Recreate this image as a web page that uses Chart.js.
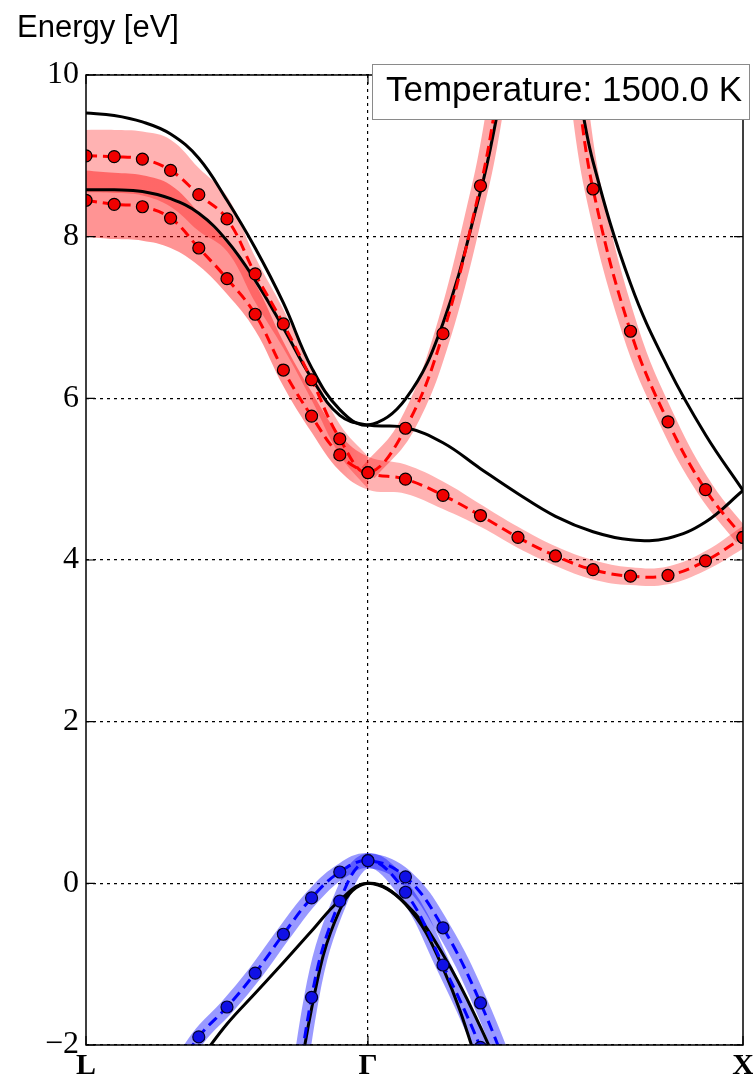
<!DOCTYPE html>
<html>
<head>
<meta charset="utf-8">
<title>Band structure at 1500 K</title>
<script src="https://cdn.jsdelivr.net/npm/chart.js@4.4.1/dist/chart.umd.min.js"></script>
<style>
  html, body { margin: 0; padding: 0; background: #fff; }
  canvas { display: block; }
</style>
</head>
<body>
<canvas id="bands" width="753" height="1081"></canvas>
<script>
// k-path L -> Gamma -> X, ten steps on each segment
const kGamma = 1.0;
const kX = 2.33;
const kPoints = [];
for (let i = 0; i <= 10; i++) kPoints.push(kGamma * i / 10);
for (let j = 1; j <= 10; j++) kPoints.push(kGamma + (kX - kGamma) * j / 10);

const pathLabels = ['L', 'Γ', 'X'];
const pathTicks = [0, kGamma, kX];
const energyTicks = [-2, 0, 2, 4, 6, 8, 10];
const temperatureLabel = 'Temperature: 1500.0 K';

// static-lattice bands (eV)
const bareC1 = [8.58, 8.58, 8.56, 8.47, 8.29, 7.95, 7.46, 6.87, 6.25, 5.79, 5.67,
                5.64, 5.45, 5.13, 4.82, 4.54, 4.35, 4.25, 4.27, 4.47, 4.86];
const bareC2 = [9.53, 9.50, 9.42, 9.27, 8.97, 8.45, 7.86, 7.18, 6.38, 5.86, 5.67,
                5.99, 6.93, 8.56, 10.4, 10.9, 8.93, 7.42, 6.38, 5.55, 4.86];
const bareV1 = [null, null, null, null, -2.2, -1.74, -1.36, -0.98, -0.59, -0.21, 0.0,
                -0.25, -0.88, -1.78, -2.85, null, null, null, null, null, null];
const bareV2 = [null, null, null, null, null, null, null, -3.8, -1.55, -0.33, 0.0,
                -0.26, -1.05, -2.35, -3.9, null, null, null, null, null, null];

// renormalised bands at 1500 K (eV)
const hotC1 = [8.45, 8.40, 8.37, 8.23, 7.86, 7.48, 7.04, 6.35, 5.78, 5.30, 5.08,
               5.00, 4.80, 4.55, 4.28, 4.05, 3.88, 3.80, 3.81, 3.99, 4.28];
const hotC2 = [9.00, 8.99, 8.96, 8.82, 8.52, 8.22, 7.54, 6.92, 6.23, 5.50, 5.08,
               5.63, 6.80, 8.63, 10.7, 11.1, 8.59, 6.83, 5.71, 4.87, 4.28];
const hotV1 = [null, null, null, -2.45, -1.90, -1.53, -1.11, -0.63, -0.18, 0.14, 0.28,
               0.08, -0.55, -1.48, -2.65, null, null, null, null, null, null];
const hotV2 = [null, null, null, null, null, null, null, -4.0, -1.41, -0.22, 0.28,
               -0.11, -1.01, -2.03, -3.3, null, null, null, null, null, null];

// broadening of the conduction bands
const hotC1Upper = [8.82, 8.79, 8.76, 8.64, 8.30, 7.92, 7.42, 6.70, 6.08, 5.55, 5.28,
                    5.18, 4.97, 4.69, 4.41, 4.17, 4.00, 3.91, 3.92, 4.11, 4.42];
const hotC1Lower = [8.00, 7.97, 7.95, 7.86, 7.64, 7.29, 6.84, 6.15, 5.58, 5.10, 4.87,
                    4.82, 4.63, 4.41, 4.15, 3.93, 3.76, 3.69, 3.70, 3.87, 4.14];
const hotC2Upper = [9.32, 9.32, 9.30, 9.20, 8.85, 8.50, 7.75, 7.10, 6.38, 5.68, 5.28];
const hotC2Lower = [8.55, 8.54, 8.51, 8.37, 8.07, 7.82, 7.19, 6.62, 5.98, 5.30, 4.88];

function pts(values, from = 0, to = values.length) {
  const out = [];
  for (let i = from; i < to; i++) out.push({ x: kPoints[i], y: values[i] });
  return out;
}

const common = { tension: 0.4, clip: 0, fill: false };

function dashedBand(values, color, markerFill, markerEdge) {
  return {
    ...common, data: pts(values), order: 1,
    borderColor: color, borderWidth: 3, borderDash: [11, 6],
    pointRadius: 6, pointBackgroundColor: markerFill,
    pointBorderColor: markerEdge, pointBorderWidth: 1.2
  };
}

function bareBand(values) {
  return { ...common, data: pts(values), order: 2, borderColor: '#000', borderWidth: 3, pointRadius: 0 };
}

function haze(values, color, width, from, to) {
  return {
    ...common, data: pts(values, from, to), order: 3,
    borderColor: color, borderWidth: width, borderCapStyle: 'butt', pointRadius: 0
  };
}

function fillEdge(values, fillTo, color) {
  return {
    ...common, data: pts(values), order: 3,
    borderColor: 'transparent', borderWidth: 0, pointRadius: 0,
    fill: fillTo, backgroundColor: color
  };
}

// lower conduction band: darker on the L side, lighter towards X
function c1Shade(ctx) {
  const chart = ctx.chart;
  const area = chart.chartArea;
  if (!area || !chart.scales.x) return 'rgba(255,0,0,0.32)';
  const gx = chart.scales.x.getPixelForValue(kGamma);
  const f = (gx - area.left) / (area.right - area.left);
  const g = chart.ctx.createLinearGradient(area.left, 0, area.right, 0);
  g.addColorStop(0, 'rgba(255,0,0,0.42)');
  g.addColorStop(Math.max(0, f - 0.04), 'rgba(255,0,0,0.42)');
  g.addColorStop(f, 'rgba(255,0,0,0.3)');
  g.addColorStop(1, 'rgba(255,0,0,0.3)');
  return g;
}

const datasets = [
  dashedBand(hotC1, '#ff0000', '#f00000', '#000'),
  dashedBand(hotC2, '#ff0000', '#f00000', '#000'),
  dashedBand(hotV1, '#0000ff', '#1010e6', '#000030'),
  dashedBand(hotV2, '#0000ff', '#1010e6', '#000030'),
  bareBand(bareC1),
  bareBand(bareC2),
  bareBand(bareV1),
  bareBand(bareV2),
  fillEdge(hotC1Upper, '+1', c1Shade),
  fillEdge(hotC1Lower, false, 'transparent'),
  fillEdge(hotC2Upper, '+1', 'rgba(255,0,0,0.3)'),
  fillEdge(hotC2Lower, false, 'transparent'),
  haze(hotC2, 'rgba(255,0,0,0.34)', 17, 10, 21),
  haze(hotV1, 'rgba(0,0,255,0.4)', 15, 0, 21),
  haze(hotV2, 'rgba(0,0,255,0.4)', 15, 0, 21)
];

// frame, inward ticks, axis caption and temperature box
const frameAndNotes = {
  id: 'frameAndNotes',
  afterDatasetsDraw(chart) {
    const { ctx, chartArea: a, scales: { x, y } } = chart;
    ctx.save();
    ctx.strokeStyle = '#000';
    ctx.lineWidth = 1.5;
    ctx.strokeRect(a.left, a.top, a.right - a.left, a.bottom - a.top);

    ctx.lineWidth = 1.2;
    ctx.beginPath();
    energyTicks.forEach(v => {
      const py = y.getPixelForValue(v);
      ctx.moveTo(a.left, py); ctx.lineTo(a.left + 9, py);
      ctx.moveTo(a.right, py); ctx.lineTo(a.right - 9, py);
    });
    pathTicks.forEach(v => {
      const px = x.getPixelForValue(v);
      ctx.moveTo(px, a.bottom); ctx.lineTo(px, a.bottom - 9);
      ctx.moveTo(px, a.top); ctx.lineTo(px, a.top + 9);
    });
    ctx.stroke();

    ctx.fillStyle = '#000';
    ctx.font = '31px "Liberation Sans", Arial, sans-serif';
    ctx.textBaseline = 'alphabetic';
    ctx.fillText('Energy [eV]', 17, 37);

    ctx.fillStyle = '#fff';
    ctx.fillRect(372, 64, 378, 56);
    ctx.strokeStyle = '#8a8a8a';
    ctx.lineWidth = 1;
    ctx.strokeRect(372.5, 64.5, 377, 55);
    ctx.fillStyle = '#000';
    ctx.font = '35px "Liberation Sans", Arial, sans-serif';
    ctx.fillText(temperatureLabel, 386, 101);
    ctx.restore();
  }
};

new Chart(document.getElementById('bands'), {
  type: 'line',
  data: { datasets },
  plugins: [frameAndNotes],
  options: {
    responsive: false,
    animation: false,
    devicePixelRatio: 1,
    events: [],
    layout: { padding: { left: 0, right: 10, top: 75, bottom: 0 } },
    elements: { line: { capBezierPoints: false } },
    plugins: { legend: { display: false }, tooltip: { enabled: false } },
    scales: {
      x: {
        type: 'linear',
        min: 0,
        max: kX,
        afterBuildTicks: (scale) => { scale.ticks = pathTicks.map(v => ({ value: v })); },
        afterFit: (scale) => { scale.height = 36; scale.paddingLeft = 0; scale.paddingRight = 0; },
        grid: {
          drawTicks: false,
          lineWidth: 1.2,
          color: (c) => (c.tick && c.tick.value === kGamma ? '#000' : 'transparent')
        },
        border: { display: false, dash: [3, 4] },
        ticks: {
          autoSkip: false,
          maxRotation: 0,
          padding: 3,
          color: '#000',
          font: { family: '"Liberation Serif", "DejaVu Serif", serif', size: 30, weight: 'bold' },
          callback: (v) => {
            const i = pathTicks.indexOf(v);
            return i >= 0 ? pathLabels[i] : '';
          }
        }
      },
      y: {
        min: -2,
        max: 10,
        afterFit: (scale) => { scale.width = 86; },
        grid: { drawTicks: false, color: '#000', lineWidth: 1.2 },
        border: { display: false, dash: [3, 4] },
        ticks: {
          stepSize: 2,
          padding: 7,
          color: '#000',
          font: { family: '"Liberation Serif", "DejaVu Serif", serif', size: 32 },
          callback: (v) => (v < 0 ? '\u2212' + Math.abs(v) : String(v))
        }
      }
    }
  }
});
</script>
</body>
</html>
